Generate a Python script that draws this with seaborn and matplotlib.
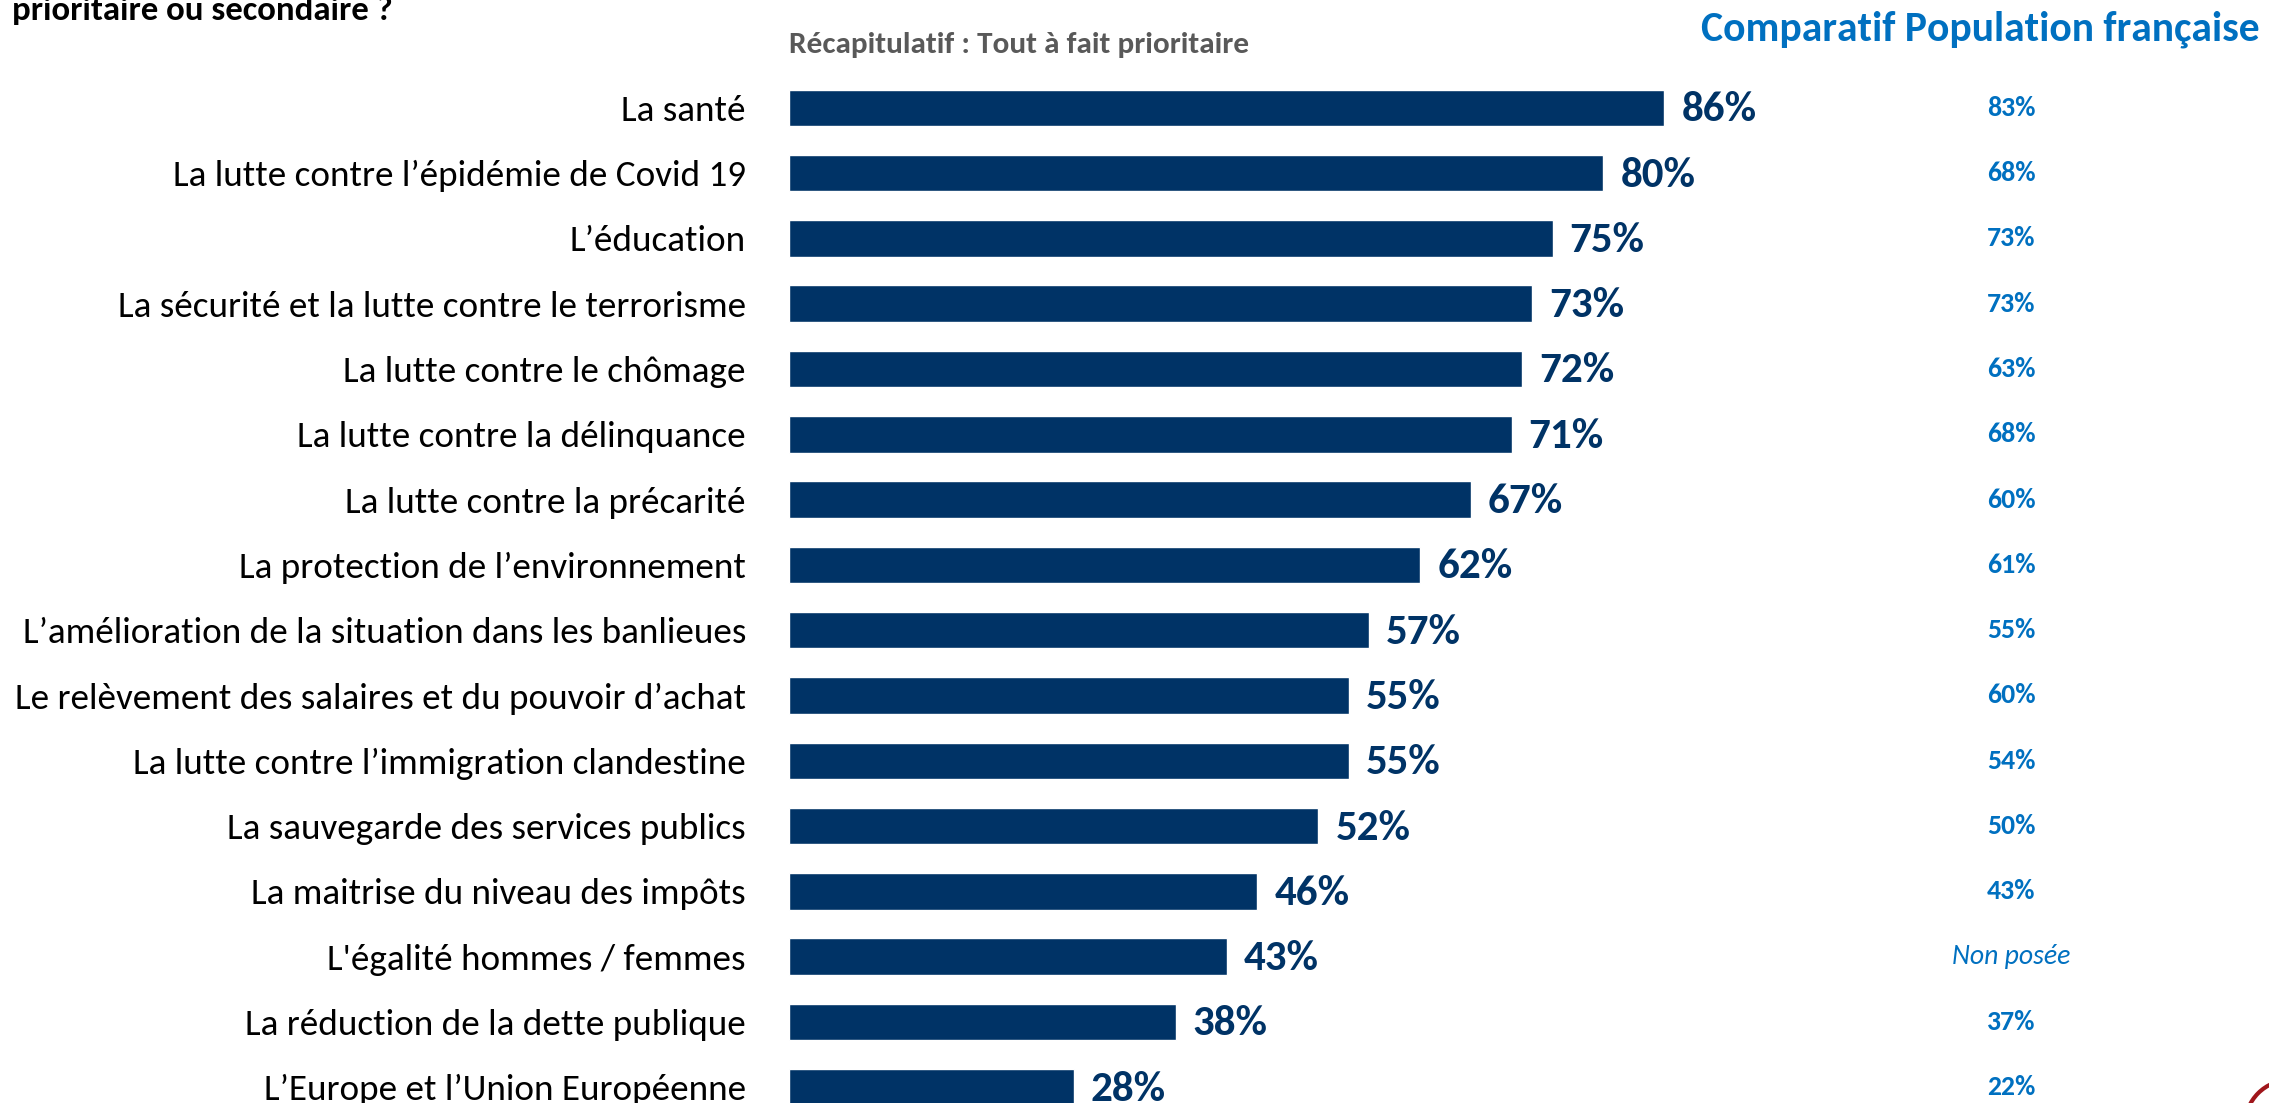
import matplotlib
matplotlib.use("Agg")
import matplotlib.pyplot as plt
import seaborn as sns
import pandas as pd
from matplotlib.transforms import blended_transform_factory
from matplotlib.patches import Circle

categories = [
    "La santé",
    "La lutte contre l’épidémie de Covid 19",
    "L’éducation",
    "La sécurité et la lutte contre le terrorisme",
    "La lutte contre le chômage",
    "La lutte contre la délinquance",
    "La lutte contre la précarité",
    "La protection de l’environnement",
    "L’amélioration de la situation dans les banlieues",
    "Le relèvement des salaires et du pouvoir d’achat",
    "La lutte contre l’immigration clandestine",
    "La sauvegarde des services publics",
    "La maitrise du niveau des impôts",
    "L'égalité hommes / femmes",
    "La réduction de la dette publique",
    "L’Europe et l’Union Européenne",
]
values = [86, 80, 75, 73, 72, 71, 67, 62, 57, 55, 55, 52, 46, 43, 38, 28]
comparison = ["83%", "68%", "73%", "73%", "63%", "68%", "60%", "61%", "55%",
              "60%", "54%", "50%", "43%", "Non posée", "37%", "22%"]

title_left = "prioritaire ou secondaire ?"
subtitle = "Récapitulatif : Tout à fait prioritaire"
header_right = "Comparatif Population française"

NAVY = "#003366"
BLUE = "#0070C0"

sns.set_theme(style="white")
plt.rcParams['font.family'] = ['Carlito', 'Lato', 'DejaVu Sans']

W, H = 2269, 1103
fig = plt.figure(figsize=(W / 100, H / 100), dpi=100)
fig.patch.set_facecolor("white")

left_px = 789
px_per = 10.18
xmax = 100
first_c = 107.8
step = 65.3
top_px = first_c - step / 2
ax = fig.add_axes([left_px / W, 0, xmax * px_per / W, (H - top_px) / H])

df = pd.DataFrame({"category": categories, "value": values})
sns.barplot(data=df, x="value", y="category", color=NAVY, saturation=1,
            width=0.56, orient="h", ax=ax)

last_c = first_c + 15 * step
ax.set_ylim(15 + (H - last_c) / step, -0.5)
ax.set_xlim(0, xmax)
for s in ax.spines.values():
    s.set_visible(False)
ax.set_xticks([])
ax.set_xlabel("")
ax.set_ylabel("")
ax.tick_params(axis="y", length=0, pad=31, labelsize=26.7, labelcolor="black")

for i, v in enumerate(values):
    ax.text(v + 17 / px_per, i + 0.03, f"{v}%", va="center", ha="left",
            fontsize=31, fontweight="bold", color=NAVY, clip_on=False)

tr = blended_transform_factory(fig.transFigure, ax.transData)
for i, c in enumerate(comparison):
    if c == "Non posée":
        ax.text(2011 / W, i, c, transform=tr, ha="center", va="center",
                fontsize=20, fontstyle="italic", color=BLUE, clip_on=False)
    else:
        ax.text(2011 / W, i, c, transform=tr, ha="center", va="center",
                fontsize=20, fontweight="bold", color=BLUE, clip_on=False)

fig.text(12 / W, 1 - 20 / H, title_left, ha="left", va="baseline",
         fontsize=25, fontweight="bold", color="black")
fig.text(789 / W, 1 - 45 / H, subtitle, ha="left", va="center",
         fontsize=22.5, fontweight="bold", color="#595959")
fig.text(2260 / W, 1 - 29 / H, header_right, ha="right", va="center",
         fontsize=30, fontweight="bold", color=BLUE)

logo = Circle((2290, -22), 45, transform=None, fill=False,
              edgecolor="#A0161B", linewidth=3)
fig.patches.append(logo)

fig.savefig("out.png", dpi=100, facecolor="white")
